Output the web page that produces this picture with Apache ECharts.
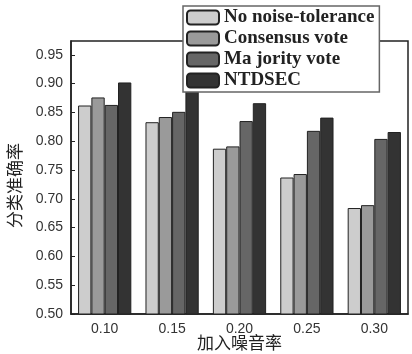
<!DOCTYPE html>
<html>
<head>
<meta charset="utf-8">
<script src="https://cdn.jsdelivr.net/npm/echarts@6/dist/echarts.min.js"></script>
<style>html,body{margin:0;padding:0;background:#fff}#c{width:412px;height:354px}</style>
</head>
<body>
<div id="c"></div>
<script>
const categories = ['0.10', '0.15', '0.20', '0.25', '0.30'];
const seriesNames = ['No noise-tolerance', 'Consensus vote', 'Ma jority vote', 'NTDSEC'];
const noNoise = [0.862, 0.833, 0.787, 0.737, 0.684];
const consensus = [0.876, 0.842, 0.791, 0.743, 0.689];
const majority = [0.863, 0.851, 0.835, 0.818, 0.804];
const ntdsec = [0.902, 0.888, 0.866, 0.841, 0.816];
const yTicks = [0.50, 0.55, 0.60, 0.65, 0.70, 0.75, 0.80, 0.85, 0.90, 0.95];

const colors = ['#cdcdcd', '#9a9a9a', '#666666', '#333333'];
const values = [noNoise, consensus, majority, ntdsec];

const chart = echarts.init(document.getElementById('c'));
chart.setOption({
  animation: false,
  grid: { left: 71, right: 4, top: 41, bottom: 40, show: true, borderColor: '#222', borderWidth: 1.5, outerBoundsMode: 'none', containLabel: false },
  legend: {
    orient: 'vertical', left: 183, top: 6, z: 10,
    itemWidth: 32, itemHeight: 14, itemGap: 2,
    padding: [2, 5, 2, 3],
    backgroundColor: '#fff', borderColor: '#666', borderWidth: 1.5,
    textStyle: { fontFamily: 'Liberation Serif', fontWeight: 'bold', fontSize: 19, color: '#222' },
    data: seriesNames
  },
  xAxis: {
    type: 'category', data: categories,
    axisLine: { lineStyle: { color: '#222', width: 1.5 } },
    axisTick: { show: false },
    axisLabel: { fontFamily: 'Liberation Sans', fontSize: 14, color: '#333', margin: 8 },
    name: '加入噪音率', nameLocation: 'middle', nameGap: 20, nameMoveOverlap: false,
    nameTextStyle: { fontFamily: 'Noto Sans CJK SC', fontSize: 17, color: '#222' }
  },
  yAxis: {
    type: 'value', min: 0.5, max: 0.974, interval: 0.05,
    axisLine: { show: true, lineStyle: { color: '#222', width: 1.5 } },
    axisTick: { show: true, inside: true, length: 4, lineStyle: { color: '#222' } },
    splitLine: { show: false },
    axisLabel: {
      fontFamily: 'Liberation Sans', fontSize: 14, color: '#333', margin: 8,
      showMaxLabel: false,
      formatter: v => yTicks.some(t => Math.abs(t - v) < 1e-6) ? v.toFixed(2) : ''
    },
    name: '分类准确率', nameLocation: 'middle', nameGap: 48, nameRotate: 90, nameMoveOverlap: false,
    nameTextStyle: { fontFamily: 'Noto Sans CJK SC', fontSize: 17, color: '#222', padding: [0, 0, 0, -16] }
  },
  series: seriesNames.map((n, i) => ({
    name: n, type: 'bar', data: values[i],
    barGap: '0%', barCategoryGap: '21%',
    itemStyle: { color: colors[i], borderColor: '#222', borderWidth: 1 }
  }))
});
</script>
</body>
</html>
